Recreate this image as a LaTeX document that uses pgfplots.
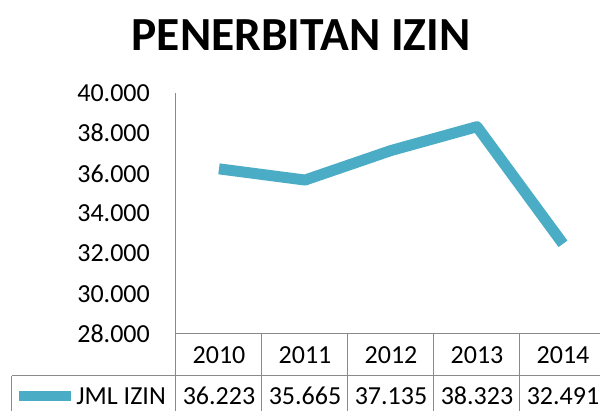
\documentclass[border=0pt]{standalone}
\usepackage{pgfplots}
\pgfplotsset{compat=1.18}
\usepackage{fontspec}
\setmainfont{Carlito}
\definecolor{lineblue}{HTML}{4BACC6}
\definecolor{gridgray}{HTML}{8A8A8A}
\begin{document}
\begin{tikzpicture}
\begin{axis}[
  scale only axis, width=430pt, height=241pt,
  at={(0pt,0pt)}, anchor=south west,
  xmin=-0.5, xmax=4.5, ymin=28000, ymax=40000,
  ytick={28000,30000,32000,34000,36000,38000,40000},
  scaled y ticks=false,
  xtick=\empty,
  axis x line*=bottom, axis y line*=left,
  axis line style={gridgray, line width=1pt, -},
  major tick length=0pt,
  yticklabel style={font=\fontsize{26}{26}\selectfont, anchor=east, inner sep=0pt, xshift=-26pt},
  /pgf/number format/.cd, fixed, precision=0, 1000 sep={.}, assume math mode=true,
  clip=false,
]
\addplot[lineblue, line width=11pt, line join=round] coordinates {(0,36223) (1,35665) (2,37135) (3,38323) (4,32491)};
% table lines
\draw[gridgray, line width=1pt] (axis cs:-0.5,28000) -- ++(0pt,-80pt);
\draw[gridgray, line width=1pt] ([xshift=-164pt,yshift=-42pt]axis cs:-0.5,28000) -- ([yshift=-42pt]axis cs:4.5,28000);
\draw[gridgray, line width=1pt] ([xshift=-164pt,yshift=-42pt]axis cs:-0.5,28000) -- ++(0pt,-40pt);
\draw[gridgray, line width=1pt] (axis cs:0.5,28000) -- ++(0pt,-80pt);
\draw[gridgray, line width=1pt] (axis cs:1.5,28000) -- ++(0pt,-80pt);
\draw[gridgray, line width=1pt] (axis cs:2.5,28000) -- ++(0pt,-80pt);
\draw[gridgray, line width=1pt] (axis cs:3.5,28000) -- ++(0pt,-80pt);
% years
\node[font=\fontsize{26}{26}\selectfont, inner sep=0pt] at ([yshift=-21pt]axis cs:0,28000) {2010};
\node[font=\fontsize{26}{26}\selectfont, inner sep=0pt] at ([yshift=-21pt]axis cs:1,28000) {2011};
\node[font=\fontsize{26}{26}\selectfont, inner sep=0pt] at ([yshift=-21pt]axis cs:2,28000) {2012};
\node[font=\fontsize{26}{26}\selectfont, inner sep=0pt] at ([yshift=-21pt]axis cs:3,28000) {2013};
\node[font=\fontsize{26}{26}\selectfont, inner sep=0pt] at ([yshift=-21pt]axis cs:4,28000) {2014};
% values
\node[font=\fontsize{26}{26}\selectfont, inner sep=0pt] at ([yshift=-62pt]axis cs:0,28000) {36.223};
\node[font=\fontsize{26}{26}\selectfont, inner sep=0pt] at ([yshift=-62pt]axis cs:1,28000) {35.665};
\node[font=\fontsize{26}{26}\selectfont, inner sep=0pt] at ([yshift=-62pt]axis cs:2,28000) {37.135};
\node[font=\fontsize{26}{26}\selectfont, inner sep=0pt] at ([yshift=-62pt]axis cs:3,28000) {38.323};
\node[font=\fontsize{26}{26}\selectfont, inner sep=0pt] at ([yshift=-62pt]axis cs:4,28000) {32.491};
% legend key
\draw[lineblue, line width=10pt] ([xshift=-157pt,yshift=-62pt]axis cs:-0.5,28000) -- ++(52pt,0pt);
\node[font=\fontsize{26}{26}\selectfont, inner sep=0pt, anchor=east] at ([xshift=-10pt,yshift=-62pt]axis cs:-0.5,28000) {JML IZIN};
% title
\node[font=\bfseries\fontsize{47.5}{47.5}\selectfont, inner sep=0pt] at ([xshift=125pt,yshift=299pt]axis cs:-0.5,28000) {PENERBITAN IZIN};
\end{axis}
\pgfresetboundingbox
\path[use as bounding box] (-176pt,-77pt) rectangle (424pt,334pt);
\end{tikzpicture}
\end{document}
